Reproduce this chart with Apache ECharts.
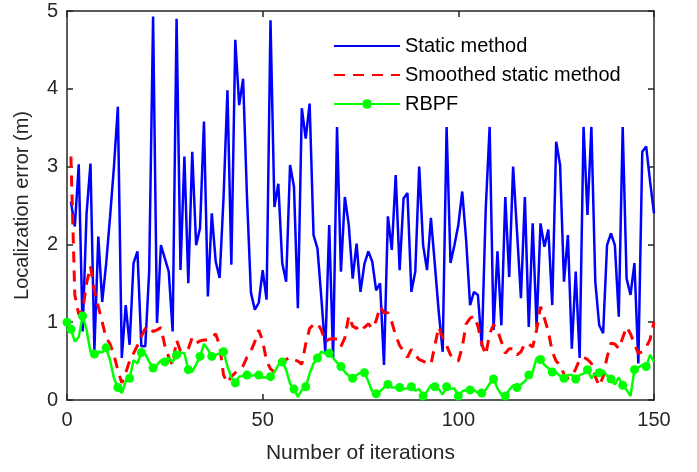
<!DOCTYPE html>
<html>
<head>
<meta charset="utf-8">
<script src="https://cdn.jsdelivr.net/npm/echarts@6/dist/echarts.min.js"></script>
<style>html,body{margin:0;padding:0;background:#fff}#c{width:697px;height:472px}</style>
</head>
<body>
<div id="c"></div>
<script>
// Static method: iterations 1..150
const staticIter = Array.from({length:150}, (_, i) => i + 1);
const staticVals = [2.55,2.23,3.03,0.88,2.4,3.04,0.64,2.1,1.26,1.75,2.35,3.0,3.77,0.54,1.22,0.71,1.76,1.91,0.69,0.69,
1.65,4.93,0.99,1.99,1.82,1.65,0.88,4.9,1.67,3.13,1.5,3.19,1.99,2.21,3.58,1.33,2.4,1.78,1.57,2.6,
3.98,1.74,4.63,3.79,4.13,2.6,1.38,1.16,1.25,1.67,1.29,4.88,2.48,2.78,1.76,1.52,3.02,2.74,1.18,3.75,
3.36,3.81,2.12,1.95,1.31,0.62,2.25,0.54,3.51,1.65,2.61,2.25,1.56,2.01,1.39,1.75,1.91,1.78,1.41,1.5,
0.45,2.36,1.93,2.89,1.67,2.59,2.66,1.39,1.65,3.0,1.99,1.67,2.34,1.74,1.13,0.62,3.51,1.76,1.99,2.25,
2.68,2.05,1.22,1.39,1.35,0.69,2.45,3.51,0.9,1.91,0.96,2.61,1.58,3.0,2.16,1.31,2.61,0.94,2.27,0.94,
2.27,1.97,2.19,1.22,3.32,3.02,1.52,2.12,0.66,1.65,0.54,3.51,2.38,3.51,1.52,0.96,0.86,1.99,2.14,1.99,
1.07,3.51,1.56,1.35,1.76,0.47,3.19,3.26,2.81,2.4];
// Smoothed static method: iterations 1..150
const smoothVals = [3.13,1.35,1.1,1.15,1.5,1.72,1.4,1.2,1.0,0.8,0.72,0.58,0.38,0.22,0.35,0.5,0.6,0.7,0.82,0.92,
0.95,0.88,0.9,0.93,0.7,0.55,0.45,0.77,0.63,0.64,0.66,0.8,0.73,0.76,0.77,0.77,0.8,0.85,0.7,0.32,
0.22,0.3,0.35,0.38,0.44,0.55,0.63,0.75,0.9,0.76,0.5,0.4,0.36,0.42,0.48,0.52,0.55,0.52,0.5,0.46,
0.72,0.92,0.97,0.99,0.9,0.75,0.78,0.79,0.78,0.69,0.8,1.08,0.95,0.92,0.98,0.93,0.98,0.92,1.02,1.2,
1.12,1.12,1.0,0.83,0.7,0.63,0.55,0.65,0.58,0.52,0.5,0.47,0.46,0.7,0.94,0.8,0.7,0.58,0.52,0.5,
0.68,0.98,1.05,1.08,0.95,0.72,0.58,0.85,0.97,0.9,0.75,0.6,0.66,0.66,0.58,0.62,0.73,0.72,0.68,0.9,
1.2,1.05,0.88,0.62,0.5,0.45,0.33,0.28,0.3,0.4,0.52,0.55,0.52,0.47,0.3,0.18,0.3,0.55,0.73,0.72,
0.66,0.8,0.94,0.85,0.72,0.6,0.62,0.68,0.78,1.0];
// RBPF: iterations 0..150
const rbpfIter = Array.from({length:151}, (_, i) => i);
const rbpfVals = [1.0,0.91,0.75,0.81,1.08,0.9,0.62,0.59,0.62,0.61,0.67,0.51,0.28,0.16,0.09,0.24,0.28,0.51,0.47,0.61,
0.59,0.49,0.41,0.45,0.51,0.49,0.54,0.49,0.58,0.61,0.6,0.39,0.36,0.46,0.56,0.72,0.65,0.56,0.58,0.6,
0.62,0.43,0.29,0.22,0.3,0.31,0.32,0.31,0.32,0.32,0.29,0.29,0.3,0.36,0.45,0.49,0.39,0.21,0.14,0.04,
0.13,0.17,0.34,0.47,0.54,0.62,0.6,0.6,0.54,0.48,0.43,0.36,0.31,0.28,0.32,0.35,0.35,0.24,0.11,0.08,
0.11,0.16,0.2,0.16,0.16,0.16,0.14,0.15,0.17,0.12,0.14,0.05,0.11,0.19,0.17,0.14,0.07,0.17,0.14,0.15,
0.05,0.11,0.13,0.13,0.13,0.09,0.09,0.13,0.21,0.27,0.15,0.07,0.05,0.13,0.19,0.16,0.2,0.24,0.32,0.36,
0.54,0.52,0.45,0.41,0.36,0.35,0.31,0.28,0.32,0.32,0.27,0.32,0.34,0.39,0.28,0.34,0.35,0.38,0.31,0.27,
0.2,0.29,0.19,0.13,0.05,0.39,0.42,0.45,0.43,0.58,0.49];
const seriesNames = ['Static method', 'Smoothed static method', 'RBPF'];
const xTicks = [0, 50, 100, 150];
const yTicks = [0, 1, 2, 3, 4, 5];

const axisColor = '#262626';
const font = 'Liberation Sans, Arial, Helvetica, sans-serif';

const chart = echarts.init(document.getElementById('c'), null, {renderer: 'canvas'});
const rbpfData = rbpfIter.map((x, i) => {
  const marked = (i === 0) || ((i - 1) % 3 === 0);
  return marked ? [x, rbpfVals[i]] : {value: [x, rbpfVals[i]], symbol: 'none'};
});

const baseX = {
  type: 'value', min: xTicks[0], max: xTicks[xTicks.length-1], interval: 50,
  axisLine: {show: true, onZero: false, lineStyle: {color: axisColor, width: 1.5}},
  axisTick: {show: true, inside: true, length: 6, lineStyle: {color: axisColor, width: 1.5}},
  splitLine: {show: false}
};
const baseY = {
  type: 'value', min: yTicks[0], max: yTicks[yTicks.length-1], interval: 1,
  axisLine: {show: true, onZero: false, lineStyle: {color: axisColor, width: 1.5}},
  axisTick: {show: true, inside: true, length: 6, lineStyle: {color: axisColor, width: 1.5}},
  splitLine: {show: false}
};

chart.setOption({
  animation: false,
  backgroundColor: '#fff',
  textStyle: {fontFamily: font},
  grid: {left: 67, right: 43, top: 11, bottom: 72, containLabel: false},
  xAxis: [
    Object.assign({}, baseX, {
      position: 'bottom',
      name: 'Number of iterations', nameLocation: 'middle', nameGap: 43,
      nameTextStyle: {fontSize: 21, color: axisColor, fontFamily: font},
      axisLabel: {show: true, fontSize: 20, color: axisColor, margin: 10, fontFamily: font}
    }),
    Object.assign({}, baseX, {position: 'top', axisLabel: {show: false}})
  ],
  yAxis: [
    Object.assign({}, baseY, {
      position: 'left',
      name: 'Localization error (m)', nameLocation: 'middle', nameGap: 35, nameRotate: 90,
      nameTextStyle: {fontSize: 20, color: axisColor, fontFamily: font},
      axisLabel: {show: true, fontSize: 20, color: axisColor, margin: 9, fontFamily: font}
    }),
    Object.assign({}, baseY, {position: 'right', axisLabel: {show: false}})
  ],
  legend: {
    orient: 'vertical', left: 328, top: 31,
    itemWidth: 66, itemHeight: 12, itemGap: 9,
    data: [
      {name: seriesNames[0], itemStyle: {opacity: 0}},
      {name: seriesNames[1], itemStyle: {opacity: 0}},
      {name: seriesNames[2]}
    ],
    textStyle: {fontSize: 20, color: '#000', fontFamily: font},
    backgroundColor: 'transparent', borderWidth: 0
  },
  series: [
    {
      name: seriesNames[0], type: 'line', xAxisIndex: 0, yAxisIndex: 0,
      data: staticIter.map((x, i) => [x, staticVals[i]]),
      symbol: 'none', lineStyle: {color: '#0000ff', width: 2.5}, itemStyle: {color: '#0000ff'},
      z: 2
    },
    {
      name: seriesNames[1], type: 'line', xAxisIndex: 0, yAxisIndex: 0,
      data: staticIter.map((x, i) => [x, smoothVals[i]]),
      symbol: 'none', lineStyle: {color: '#ff0000', width: 3, type: [11, 8]}, itemStyle: {color: '#ff0000'},
      z: 3
    },
    {
      name: seriesNames[2], type: 'line', xAxisIndex: 0, yAxisIndex: 0,
      data: rbpfData, symbol: 'circle', symbolSize: 9, showAllSymbol: true,
      lineStyle: {color: '#00ff00', width: 2.5}, itemStyle: {color: '#00ff00', borderWidth: 0},
      z: 4
    }
  ]
});
</script>
</body>
</html>
